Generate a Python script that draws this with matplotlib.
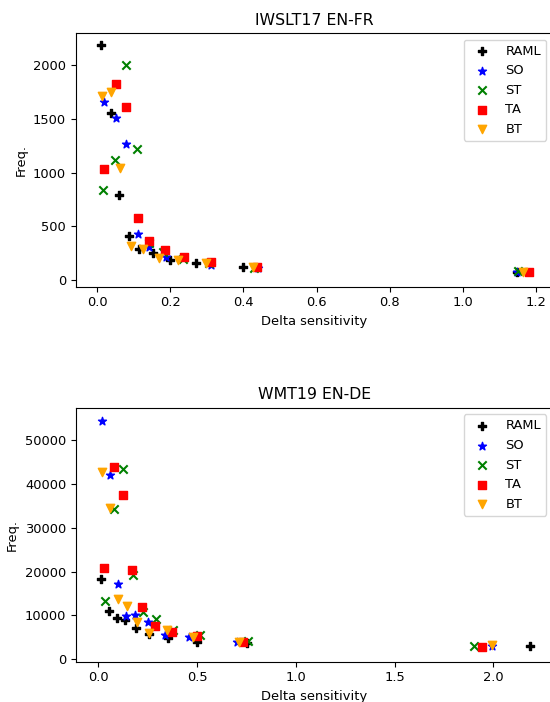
import numpy as np
import matplotlib
matplotlib.use('Agg')
import matplotlib.pyplot as plt
plt.rcParams['font.size'] = 9.4

methods = ['RAML', 'SO', 'ST', 'TA', 'BT']
markers = ['P', '*', 'x', 's', 'v']
colors = ['black', 'blue', 'green', 'red', 'orange']

# IWSLT17 EN-FR
fr_x = {
    'RAML': [0.011, 0.036, 0.059, 0.086, 0.114, 0.152, 0.200, 0.271, 0.399, 1.148],
    'SO':   [0.018, 0.050, 0.078, 0.110, 0.141, 0.187, 0.312, 0.440, 1.150],
    'ST':   [0.015, 0.049, 0.078, 0.108, 0.141, 0.180, 0.235, 0.305, 0.430, 1.152],
    'TA':   [0.018, 0.050, 0.079, 0.110, 0.141, 0.185, 0.237, 0.312, 0.436, 1.182],
    'BT':   [0.012, 0.038, 0.063, 0.091, 0.125, 0.168, 0.221, 0.298, 0.426, 1.165],
}
fr_y = {
    'RAML': [2186, 1551, 793, 409, 285, 254, 186, 155, 118, 77],
    'SO':   [1653, 1510, 1268, 428, 310, 217, 140, 109, 77],
    'ST':   [837, 1113, 2003, 1216, 340, 260, 200, 160, 115, 80],
    'TA':   [1030, 1826, 1606, 574, 366, 279, 214, 165, 124, 77],
    'BT':   [1712, 1749, 1045, 316, 291, 207, 186, 155, 118, 77],
}

# WMT19 EN-DE
de_x = {
    'RAML': [0.013, 0.052, 0.092, 0.136, 0.190, 0.257, 0.354, 0.497, 0.750, 2.185],
    'SO':   [0.018, 0.058, 0.097, 0.139, 0.186, 0.249, 0.335, 0.457, 0.700, 1.990],
    'ST':   [0.033, 0.080, 0.126, 0.173, 0.227, 0.291, 0.379, 0.514, 0.758, 1.900],
    'TA':   [0.030, 0.078, 0.122, 0.168, 0.222, 0.286, 0.370, 0.497, 0.733, 1.943],
    'BT':   [0.018, 0.058, 0.097, 0.143, 0.197, 0.257, 0.348, 0.480, 0.713, 1.990],
}
de_y = {
    'RAML': [18370, 11010, 9480, 8960, 7060, 5770, 4930, 4010, 3650, 3030],
    'SO':   [54300, 42000, 17160, 9870, 10100, 8430, 5540, 5010, 4010, 3030],
    'ST':   [13290, 34260, 43300, 19210, 10710, 9180, 6680, 5540, 4240, 3030],
    'TA':   [20740, 43900, 37440, 20280, 11990, 7660, 6150, 5380, 4010, 2900],
    'BT':   [42760, 34550, 13670, 12150, 8570, 6060, 6680, 5010, 4010, 3150],
}

fig = plt.figure(figsize=(5.5, 7.02), dpi=100)
ax1 = fig.add_axes([0.138, 0.5916, 0.867, 0.3614])
ax2 = fig.add_axes([0.138, 0.0574, 0.867, 0.3618])

for ax, xs, ys, title in [(ax1, fr_x, fr_y, 'IWSLT17 EN-FR'),
                          (ax2, de_x, de_y, 'WMT19 EN-DE')]:
    for m, mk, c in zip(methods, markers, colors):
        ax.scatter(xs[m], ys[m], marker=mk, color=c, label=m, s=36)
    ax.set_title(title, fontsize=11.3)
    ax.set_xlabel('Delta sensitivity')
    ax.set_ylabel('Freq.')
    ax.legend(loc='upper right')

ax1.set_xlim(-0.059, 1.247)
ax1.set_ylim(-62, 2298)
ax2.set_xlim(-0.114, 2.30)
ax2.set_ylim(-547, 57340)

plt.savefig('out.png', dpi=100)
